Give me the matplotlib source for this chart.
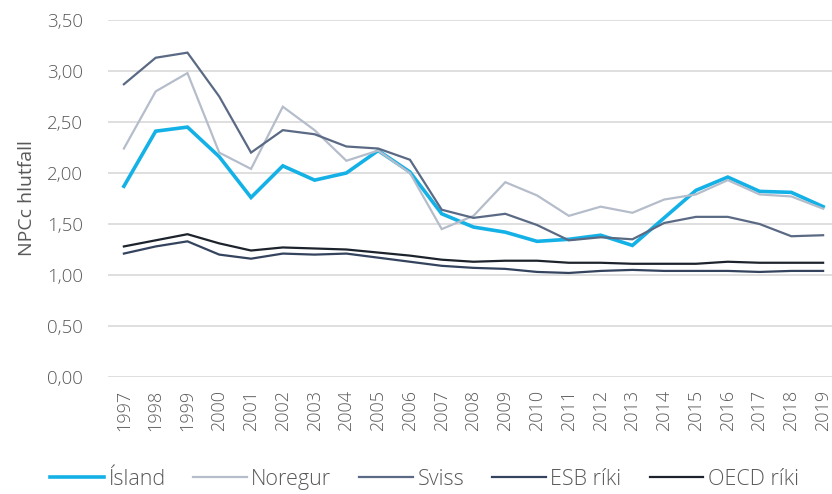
import matplotlib.pyplot as plt
from matplotlib.ticker import FuncFormatter

years = list(range(1997, 2020))

island = [1.87, 2.41, 2.45, 2.16, 1.76, 2.07, 1.93, 2.00, 2.22, 2.01, 1.60, 1.47,
          1.42, 1.33, 1.35, 1.39, 1.29, 1.56, 1.83, 1.96, 1.82, 1.81, 1.67]
noregur = [2.24, 2.80, 2.98, 2.20, 2.04, 2.65, 2.42, 2.12, 2.22, 2.00, 1.45, 1.58,
           1.91, 1.78, 1.58, 1.67, 1.61, 1.74, 1.79, 1.93, 1.79, 1.77, 1.65]
sviss = [2.87, 3.13, 3.18, 2.75, 2.20, 2.42, 2.38, 2.26, 2.24, 2.13, 1.64, 1.56,
         1.60, 1.49, 1.34, 1.37, 1.35, 1.51, 1.57, 1.57, 1.50, 1.38, 1.39]
esb = [1.21, 1.28, 1.33, 1.20, 1.16, 1.21, 1.20, 1.21, 1.17, 1.13, 1.09, 1.07,
       1.06, 1.03, 1.02, 1.04, 1.05, 1.04, 1.04, 1.04, 1.03, 1.04, 1.04]
oecd = [1.28, 1.34, 1.40, 1.31, 1.24, 1.27, 1.26, 1.25, 1.22, 1.19, 1.15, 1.13,
        1.14, 1.14, 1.12, 1.12, 1.11, 1.11, 1.11, 1.13, 1.12, 1.12, 1.12]

series = [
    ('Ísland', island, '#14b1e7', 2.6),
    ('Noregur', noregur, '#b5bdcb', 1.6),
    ('Sviss', sviss, '#5b6a84', 1.6),
    ('ESB ríki', esb, '#34435e', 1.6),
    ('OECD ríki', oecd, '#1d232c', 1.6),
]

TEXT_COLOR = '#595959'
plt.rcParams['font.family'] = ['Open Sans', 'DejaVu Sans']
plt.rcParams['font.weight'] = 'light'

fig = plt.figure(figsize=(8.32, 4.94), dpi=100)
ax = fig.add_axes([108 / 832, 117 / 494, 731 / 832, 357 / 494])

for name, vals, color, lw in series:
    ax.plot(years, vals, color=color, linewidth=lw, label=name, solid_joinstyle='miter')

ax.set_xlim(1996.5, 2019.5)
ax.set_ylim(0, 3.5)
ax.set_yticks([i * 0.5 for i in range(8)])
ax.yaxis.set_major_formatter(FuncFormatter(lambda v, p: f'{v:.2f}'.replace('.', ',')))
ax.set_xticks(years)
ax.set_xticklabels([str(y) for y in years], rotation=90)

ax.grid(axis='y', color='#d9d9d9', linewidth=1.2)
ax.set_axisbelow(True)
for s in ax.spines.values():
    s.set_visible(False)
ax.tick_params(axis='both', length=0, labelsize=13, labelcolor=TEXT_COLOR)
ax.tick_params(axis='y', labelsize=13.5, pad=18)
ax.tick_params(axis='x', pad=9)

ax.set_ylabel('NPCc hlutfall', fontsize=14, color=TEXT_COLOR, labelpad=8)

fig.legend(loc='center', bbox_to_anchor=(0.51, 0.03), ncol=5, frameon=False,
           fontsize=15.5, handlelength=2.5, handletextpad=0.2, columnspacing=1.3,
           labelcolor=TEXT_COLOR)

fig.savefig('out.png', dpi=100)
